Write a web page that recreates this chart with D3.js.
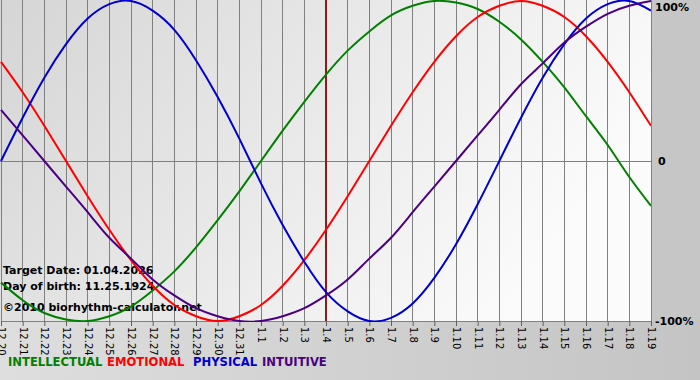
<!DOCTYPE html>
<html><head><meta charset="utf-8">
<script src="https://cdn.jsdelivr.net/npm/d3@7"></script>
<style>
html,body{margin:0;padding:0;background:#c6c6c6;}
svg{display:block;}
</style></head>
<body>
<svg id="chart" width="700" height="380"></svg>
<script>
const dates = ["12.20","12.21","12.22","12.23","12.24","12.25","12.26","12.27","12.28","12.29","12.30","12.31",
  "1.1","1.2","1.3","1.4","1.5","1.6","1.7","1.8","1.9","1.10","1.11","1.12","1.13","1.14","1.15","1.16","1.17","1.18","1.19"];
const intellectual = [-0.76,-0.87,-0.95,-0.99,-1.0,-0.97,-0.91,-0.81,-0.69,-0.54,-0.37,-0.19,
  0,0.19,0.37,0.54,0.69,0.81,0.91,0.97,1.0,0.99,0.95,0.87,0.76,0.62,0.46,0.28,0.10,-0.10,-0.28];
const emotional = [0.62,0.43,0.22,0,-0.22,-0.43,-0.62,-0.78,-0.90,-0.97,-1.0,-0.97,-0.90,-0.78,-0.62,-0.43,
  -0.22,0,0.22,0.43,0.62,0.78,0.90,0.97,1.0,0.97,0.90,0.78,0.62,0.43,0.22];
const physical = [0,0.27,0.52,0.73,0.89,0.98,1.0,0.94,0.82,0.63,0.40,0.14,-0.14,-0.40,-0.63,-0.82,
  -0.94,-1.0,-0.98,-0.89,-0.73,-0.52,-0.27,0,0.27,0.52,0.73,0.89,0.98,1.0,0.94];
const intuitive = [0.32,0.16,0,-0.16,-0.32,-0.48,-0.61,-0.74,-0.84,-0.92,-0.97,-1.0,-1.0,-0.97,-0.92,-0.84,
  -0.74,-0.61,-0.48,-0.32,-0.16,0,0.16,0.32,0.48,0.61,0.74,0.84,0.92,0.97,1.0];
const seriesNames = ["INTELLECTUAL","EMOTIONAL","PHYSICAL","INTUITIVE"];
const yTickValues = [1, 0, -1];
const yTickLabels = ["100%", "0", "-100%"];
const targetDay = "1.4";
const infoLines = ["Target Date: 01.04.2026", "Day of birth: 11.25.1924", "\u00A92010 biorhythm-calculator.net"];

const colors = {INTELLECTUAL:"#008000", EMOTIONAL:"#ff0000", PHYSICAL:"#0000cc", INTUITIVE:"#4b0082"};
const seriesData = {INTELLECTUAL:intellectual, EMOTIONAL:emotional, PHYSICAL:physical, INTUITIVE:intuitive};

const svg = d3.select("#chart");
const W = 700, H = 380;
const plot = {left:1, right:651, top:0, bottom:321};

const x = d3.scalePoint().domain(dates).range([plot.left, plot.right]);
const y = d3.scaleLinear().domain([-1, 1]).range([plot.bottom, plot.top + 1]);

const defs = svg.append("defs");
const g1 = defs.append("linearGradient").attr("id","plotBg").attr("x1","0").attr("y1","0").attr("x2","1").attr("y2","0.35");
g1.append("stop").attr("offset","0").attr("stop-color","#d5d5d5");
g1.append("stop").attr("offset","1").attr("stop-color","#fbfbfb");
const g2 = defs.append("linearGradient").attr("id","bottomBg").attr("x1","0").attr("y1","0").attr("x2","1").attr("y2","0");
g2.append("stop").attr("offset","0").attr("stop-color","#dedede");
g2.append("stop").attr("offset","1").attr("stop-color","#c4c4c4");
defs.append("clipPath").attr("id","clip").append("rect")
  .attr("x", plot.left - 1).attr("y", plot.top).attr("width", plot.right - plot.left + 1).attr("height", plot.bottom - plot.top + 1);

svg.append("rect").attr("x",0).attr("y",0).attr("width",W).attr("height",H).attr("fill","#c6c6c6");
svg.append("rect").attr("x",0).attr("y",plot.bottom).attr("width",W).attr("height",H-plot.bottom).attr("fill","url(#bottomBg)");
svg.append("rect").attr("x",0).attr("y",plot.top).attr("width",plot.right).attr("height",plot.bottom-plot.top).attr("fill","url(#plotBg)");

// bottom axis
const xAxis = d3.axisBottom(x).tickSize(5).tickSizeOuter(0);
const ax = svg.append("g").attr("transform", `translate(0,${plot.bottom})`).call(xAxis);
ax.select(".domain").attr("stroke","#808080");
ax.selectAll(".tick line").attr("stroke","#606060");
ax.selectAll(".tick text")
  .attr("transform","rotate(90)")
  .attr("x", 6).attr("y", 0).attr("dy","0.35em")
  .attr("text-anchor","start")
  .attr("font-family","'DejaVu Sans', Verdana, sans-serif")
  .attr("font-size","10px").attr("fill","#000");

// vertical grid
svg.append("g").selectAll("line").data(dates).join("line")
  .attr("x1", d => x(d)).attr("x2", d => x(d))
  .attr("y1", plot.top).attr("y2", plot.bottom)
  .attr("stroke","#808080").attr("stroke-width",1).attr("shape-rendering","crispEdges");

// zero line
svg.append("line").attr("x1",0).attr("x2",plot.right).attr("y1",y(0)).attr("y2",y(0))
  .attr("stroke","#808080").attr("shape-rendering","crispEdges");

// right labels
svg.append("g").selectAll("text").data(yTickValues).join("text")
  .attr("x", (d,i) => yTickLabels[i] === "0" ? 658 : 655)
  .attr("y", d => Math.min(Math.max(y(d), 7), 322))
  .attr("dy","0.35em")
  .attr("font-family","'DejaVu Sans', Verdana, sans-serif").attr("font-weight","bold").attr("font-size","11px")
  .attr("fill","#000")
  .text((d,i) => yTickLabels[i]);

// target line
svg.append("line").attr("x1", x(targetDay)).attr("x2", x(targetDay)).attr("y1", plot.top).attr("y2", plot.bottom)
  .attr("stroke","#8b1c1c").attr("stroke-width",2);

// info text
svg.append("g").selectAll("text").data(infoLines).join("text")
  .attr("x", 3).attr("y", (d,i) => [274, 290, 311][i])
  .attr("font-family","'DejaVu Sans', Verdana, sans-serif").attr("font-weight","bold").attr("font-size","11px")
  .attr("fill","#000")
  .text(d => d);

// curves
const line = d3.line().x((d,i) => x(dates[i])).y(d => y(d)).curve(d3.curveNatural);
svg.append("g").attr("clip-path","url(#clip)").selectAll("path").data(seriesNames).join("path")
  .attr("d", n => line(seriesData[n]))
  .attr("fill","none").attr("stroke", n => colors[n]).attr("stroke-width",2);

// legend
const legendX = [8, 107, 193, 262];
svg.append("g").selectAll("text").data(seriesNames).join("text")
  .attr("x", (d,i) => legendX[i]).attr("y", 366)
  .attr("font-family","'DejaVu Sans', Verdana, sans-serif").attr("font-weight","bold").attr("font-size","11.6px")
  .attr("fill", d => colors[d])
  .text(d => d);
</script>
</body></html>
